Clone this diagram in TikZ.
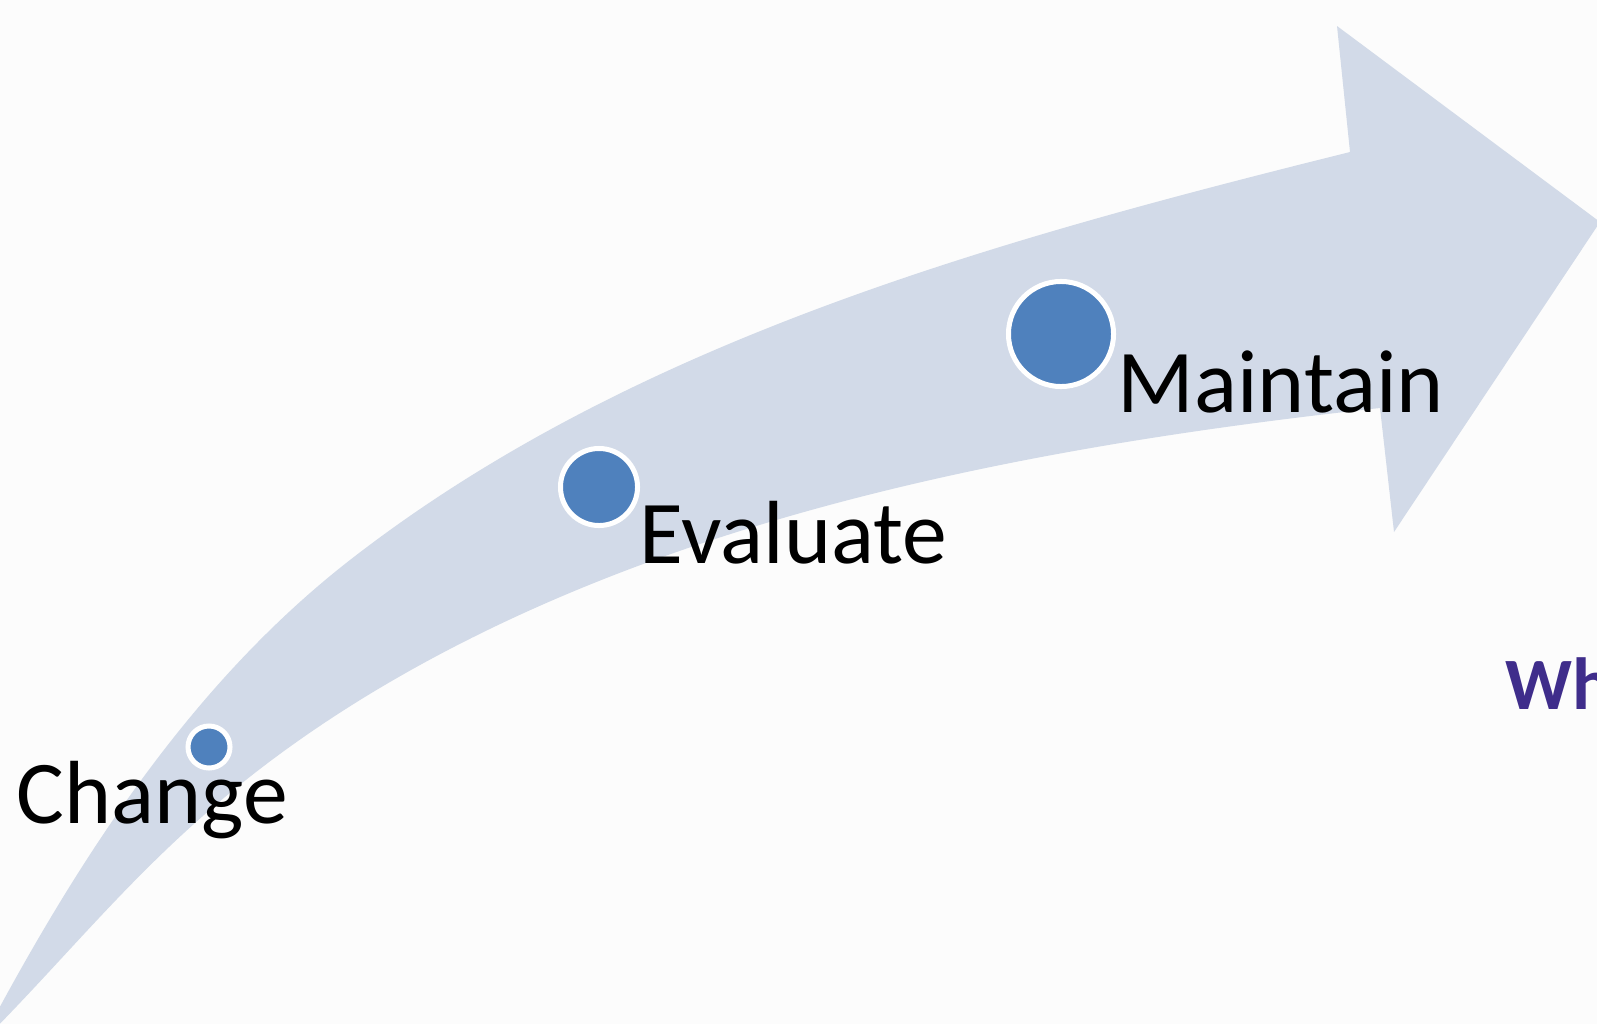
\documentclass[tikz,border=0pt]{standalone}
\usepackage{fontspec}
\setmainfont{Carlito}
\definecolor{bandcol}{RGB}{210,218,232}
\definecolor{dotcol}{RGB}{79,129,189}
\definecolor{whcol}{RGB}{63,45,139}
\tikzset{
  stepdot/.style={circle, fill=dotcol, draw=white, line width=0.05cm, inner sep=0pt},
  steplabel/.style={anchor=base west, inner sep=0pt, font=\fontsize{25.5}{30}\selectfont},
}
\begin{document}
\begin{tikzpicture}[x=0.01cm, y=-0.01cm]
\useasboundingbox (0,0) rectangle (1597,1024);
\fill[white!99!black] (0,0) rectangle (1597,1024);
% curved arrow
\fill[bandcol] (-20,1044) .. controls (78,858) and (192,683) .. (350,560)
  .. controls (634,339) and (1001,239) .. (1350,152)
  -- (1337,26) -- (1600,222) -- (1394,532) -- (1380,408)
  .. controls (1032,446) and (658,516) .. (360,700)
  .. controls (173,816) and (100,924) .. (-20,1044) -- cycle;
% steps
\node[stepdot, minimum size=0.42cm] (chg) at (209,747) {};
\node[stepdot, minimum size=0.77cm] (evl) at (599,487) {};
\node[stepdot, minimum size=1.05cm] (mnt) at (1061,334) {};
\node[steplabel] (chgtxt) at (16,823) {Change};
\node[steplabel] (evltxt) at (639,563) {Evaluate};
\node[steplabel] (mnttxt) at (1117,412) {Maintain};
\node[anchor=base west, inner sep=0pt, text=whcol, font=\fontsize{21}{24}\selectfont\bfseries] (wh) at (1505,709) {Wh};
\end{tikzpicture}
\end{document}
